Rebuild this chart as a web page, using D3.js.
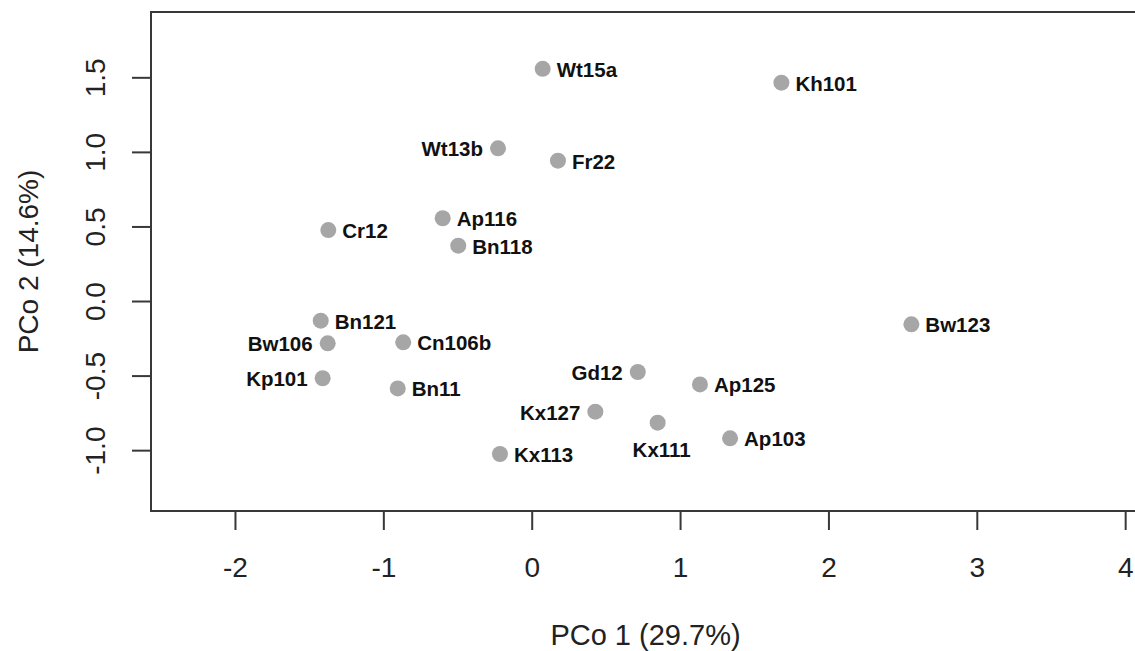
<!DOCTYPE html>
<html>
<head>
<meta charset="utf-8">
<script src="https://cdn.jsdelivr.net/npm/d3@7"></script>
<style>
    body { margin: 0; background: #fff; }
    svg { font-family: "Liberation Sans", Arial, sans-serif; }
</style>
</head>
<body>
<div id="chart"></div>
<script>
// sample ids and their PCo coordinates
const samples = ["Wt15a", "Kh101", "Wt13b", "Fr22", "Ap116", "Cr12", "Bn118", "Bn121", "Bw106",
    "Cn106b", "Kp101", "Bn11", "Gd12", "Ap125", "Kx127", "Kx111", "Ap103", "Kx113", "Bw123"];
const pco1 = [0.074, 1.683, -0.227, 0.177, -0.600, -1.371, -0.495, -1.422, -1.375,
    -0.866, -1.409, -0.903, 0.715, 1.134, 0.429, 0.849, 1.337, -0.214, 2.559];
const pco2 = [1.557, 1.464, 1.024, 0.941, 0.555, 0.476, 0.371, -0.132, -0.284,
    -0.277, -0.518, -0.586, -0.476, -0.559, -0.742, -0.816, -0.921, -1.026, -0.156];

const xTicks = [-2, -1, 0, 1, 2, 3, 4];
const yTicks = [-1.0, -0.5, 0.0, 0.5, 1.0, 1.5];
const xTitle = "PCo 1 (29.7%)";
const yTitle = "PCo 2 (14.6%)";

// where each label sits relative to its dot (default: right)
const leftLabels = ["Wt13b", "Bw106", "Kp101", "Gd12", "Kx127"];
const belowLabels = ["Kx111"];

let data = samples.map((s, i) => ({name: s, x: pco1[i], y: pco2[i]}));

let width = 1135, height = 651;
let box = {left: 151, right: 1140, top: 12, bottom: 511};

let svg = d3.select("#chart").append("svg")
    .attr("width", width)
    .attr("height", height);

let x = d3.scaleLinear()
    .domain([-2.566, 4.10])
    .range([box.left, box.right]);

let y = d3.scaleLinear()
    .domain([-1.408, 1.938])
    .range([box.bottom, box.top]);

let axisColor = "#383838";

// x axis
let xAxis = d3.axisBottom(x)
    .tickValues(xTicks)
    .tickSize(19)
    .tickFormat(d3.format("d"));

let gx = svg.append("g")
    .attr("transform", "translate(0," + box.bottom + ")")
    .call(xAxis);
gx.select(".domain").remove();
gx.selectAll(".tick line").attr("stroke", axisColor).attr("stroke-width", 2);
gx.selectAll(".tick text")
    .attr("y", 66)
    .attr("dy", 0)
    .attr("fill", "#222")
    .style("font-size", "28px")
    .text(d => d < 0 ? "-" + Math.abs(d) : d);

// y axis
let yAxis = d3.axisLeft(y)
    .tickValues(yTicks)
    .tickSize(19)
    .tickFormat(d3.format(".1f"));

let gy = svg.append("g")
    .attr("transform", "translate(" + box.left + ",0)")
    .call(yAxis);
gy.select(".domain").remove();
gy.selectAll(".tick line").attr("stroke", axisColor).attr("stroke-width", 2);
gy.selectAll(".tick text")
    .attr("x", 0)
    .attr("dy", 0)
    .attr("text-anchor", "middle")
    .attr("transform", "translate(-46,0) rotate(-90)")
    .attr("fill", "#222")
    .style("font-size", "28px")
    .text(d => d3.format(".1f")(d).replace("−", "-"));

// frame
svg.append("rect")
    .attr("x", box.left)
    .attr("y", box.top)
    .attr("width", box.right - box.left)
    .attr("height", box.bottom - box.top)
    .attr("fill", "none")
    .attr("stroke", axisColor)
    .attr("stroke-width", 2);

// axis titles
svg.append("text")
    .attr("x", (box.left + box.right) / 2)
    .attr("y", 645)
    .attr("text-anchor", "middle")
    .attr("fill", "#222")
    .style("font-size", "29px")
    .text(xTitle);

svg.append("text")
    .attr("text-anchor", "middle")
    .attr("transform", "translate(38," + (box.top + box.bottom) / 2 + ") rotate(-90)")
    .attr("fill", "#222")
    .style("font-size", "28px")
    .text(yTitle);

// points
svg.selectAll(".dot")
    .data(data)
    .enter()
    .append("circle")
    .attr("class", "dot")
    .attr("cx", d => x(d.x))
    .attr("cy", d => y(d.y))
    .attr("r", 8)
    .attr("fill", "#a6a6a6");

// labels
svg.selectAll(".lbl")
    .data(data)
    .enter()
    .append("text")
    .attr("class", "lbl")
    .attr("x", function (d) {
        if (leftLabels.includes(d.name)) return x(d.x) - 15;
        if (belowLabels.includes(d.name)) return x(d.x) + 4;
        return x(d.x) + 14;
    })
    .attr("y", function (d) {
        if (belowLabels.includes(d.name)) return y(d.y) + 34;
        return y(d.y) + 8;
    })
    .attr("text-anchor", function (d) {
        if (leftLabels.includes(d.name)) return "end";
        if (belowLabels.includes(d.name)) return "middle";
        return "start";
    })
    .attr("fill", "#111")
    .style("font-size", "20.5px")
    .style("font-weight", "bold")
    .text(d => d.name);
</script>
</body>
</html>
